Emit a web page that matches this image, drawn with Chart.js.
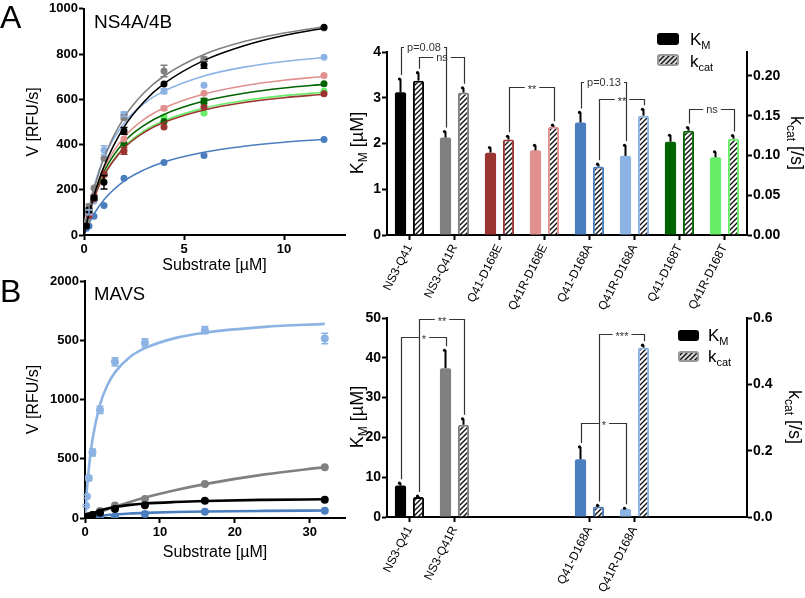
<!DOCTYPE html>
<html>
<head>
<meta charset="utf-8">
<script src="https://cdn.jsdelivr.net/npm/chart.js@4.4.1/dist/chart.umd.min.js"></script>
<style>
  body { margin: 0; background: #fff; width: 805px; height: 598px; position: relative; overflow: hidden;
         font-family: 'Liberation Sans', Arial, sans-serif; }
  canvas { position: absolute; }
  .lbl { position: absolute; color: #000; line-height: 1; white-space: nowrap; }
</style>
</head>
<body>
<canvas id="curvesA" width="350" height="300" style="left:0;top:0"></canvas>
<canvas id="barsA" width="470" height="310" style="left:335px;top:0"></canvas>
<canvas id="curvesB" width="350" height="328" style="left:0;top:270px"></canvas>
<canvas id="barsB" width="470" height="328" style="left:335px;top:270px"></canvas>
<div class="lbl" style="left:0;top:1px;font-size:32px">A</div>
<div class="lbl" style="left:0;top:275px;font-size:32px">B</div>
<div class="lbl" style="left:94px;top:12px;font-size:19px">NS4A/4B</div>
<div class="lbl" style="left:94px;top:285px;font-size:18.5px">MAVS</div>
<script>
const FONT = "'Liberation Sans', Arial, sans-serif";
Chart.defaults.font.family = FONT;
Chart.defaults.color = '#000';

// protease variants, in plotting order
const groups = ['NS3-Q41', 'NS3-Q41R', 'Q41-D168E', 'Q41R-D168E', 'Q41-D168A', 'Q41R-D168A', 'Q41-D168T', 'Q41R-D168T'];
const groupColors = ['#000000', '#808080', '#9a3431', '#e0918f', '#4a7ebf', '#8cb3e3', '#006400', '#66ee66'];

// --- A: NS4A/4B substrate, initial rates (RFU/s)
const substrateA = [0.125, 0.25, 0.5, 1, 2, 4, 6, 12];
const rateA = [
  [40, 110, 165, 233, 460, 668, 752, 918],
  [60, 125, 208, 338, 520, 725, 778, 915],
  [50, 85, 160, 270, 372, 478, 566, 625],
  [55, 90, 175, 265, 424, 560, 627, 705],
  [30, 40, 83, 130, 251, 321, 352, 422],
  [50, 100, 150, 375, 534, 636, 662, 786],
  [45, 95, 165, 265, 405, 502, 592, 669],
  [45, 90, 160, 270, 405, 522, 539, 636]
];
const rateErrA = [
  [0, 8, 10, 30, 15, 0, 15, 0],
  [0, 12, 0, 0, 10, 25, 8, 0],
  [0, 0, 0, 0, 15, 0, 0, 0],
  [0, 0, 0, 0, 0, 8, 0, 0],
  [0, 0, 0, 0, 0, 0, 0, 0],
  [0, 10, 0, 20, 10, 10, 0, 0],
  [0, 0, 0, 0, 0, 0, 12, 0],
  [0, 0, 0, 0, 0, 0, 0, 0]
];
// fitted curves
const fitXA = [0, 0.25, 0.5, 1, 2, 3, 4, 6, 8, 10, 12];
const fitA = [
  [0, 95, 175, 303, 477, 589, 669, 772, 837, 882, 914],
  [0, 111, 202, 341, 519, 629, 703, 798, 855, 893, 921],
  [0, 91, 162, 263, 384, 453, 498, 553, 586, 607, 622],
  [0, 103, 182, 296, 432, 511, 561, 623, 660, 684, 701],
  [0, 51, 93, 156, 238, 288, 323, 366, 392, 410, 423],
  [0, 120, 212, 342, 494, 581, 636, 703, 742, 767, 785],
  [0, 97, 173, 281, 411, 485, 533, 592, 627, 650, 666],
  [0, 92, 164, 266, 389, 460, 505, 561, 594, 616, 631]
];

// --- A: kinetic constants
const kmA = [3.12, 2.13, 1.80, 1.85, 2.46, 1.73, 2.04, 1.70];
const kmErrA = [0.29, 0.13, 0.11, 0.11, 0.22, 0.23, 0.14, 0.12];
const kcatA = [0.194, 0.179, 0.120, 0.136, 0.086, 0.150, 0.131, 0.121];
const kcatErrA = [0.010, 0.006, 0.004, 0.002, 0.003, 0.008, 0.004, 0.004];

// --- B: MAVS substrate
const seriesB = [0, 1, 4, 5]; // indexes into groups
const substrateB = [0.125, 0.25, 0.5, 1, 2, 4, 8, 16, 32];
const rateB = [
  [4, 8, 15, 25, 45, 75, 108, 145, 155],
  [3, 6, 12, 25, 60, 105, 160, 286, 429],
  [2, 3, 4, 5, 6, 11, 34, 53, 62],
  [104, 182, 337, 553, 912, 1318, 1478, 1585, 1515]
];
const rateErrB = [
  [0, 0, 0, 0, 0, 0, 0, 0, 0],
  [0, 0, 0, 0, 0, 0, 0, 0, 0],
  [0, 0, 0, 0, 0, 0, 0, 0, 0],
  [10, 15, 20, 30, 30, 35, 35, 30, 45]
];
const fitXB = [0, 0.25, 0.5, 1, 2, 3, 4, 6, 8, 12, 16, 24, 32];
const fitB = [
  [0, 12, 22, 39, 64, 81, 93, 111, 122, 135, 144, 153, 158],
  [0, 7, 13, 26, 50, 73, 95, 135, 172, 234, 286, 368, 429],
  [0, 3, 6, 11, 19, 25, 30, 38, 43, 50, 55, 60, 63],
  [0, 232, 410, 662, 956, 1122, 1229, 1358, 1433, 1518, 1564, 1613, 1638]
];
const yTicksB = ['0', '500', '1000', '500', '2000'];

const kmB = [7.9, 37.4, null, null, 14.5, 2.0, null, null];
const kmErrB = [0.6, 4.5, null, null, 3.1, 0.2, null, null];
const kcatB = [0.060, 0.278, null, null, 0.032, 0.511, null, null];
const kcatErrB = [0.003, 0.018, null, null, 0.003, 0.007, null, null];

// significance brackets: [group, dataset(0=KM,1=kcat)], level on the KM axis
const bracketsA = [
  {from: [0, 0], to: [1, 0], level: 4.11, text: 'p=0.08'},
  {from: [0, 1], to: [1, 1], level: 3.89, text: 'ns'},
  {from: [2, 1], to: [3, 1], level: 3.24, text: '**'},
  {from: [4, 0], to: [5, 0], level: 3.35, text: 'p=0.13'},
  {from: [4, 1], to: [5, 1], level: 2.98, text: '**'},
  {from: [6, 1], to: [7, 1], level: 2.76, text: 'ns'}
];
const bracketsB = [
  {from: [0, 0], to: [1, 0], level: 45.2, text: '*'},
  {from: [0, 1], to: [1, 1], level: 49.7, text: '**'},
  {from: [4, 1], to: [5, 1], level: 46.1, text: '***'},
  {from: [4, 0], to: [5, 0], level: 23.5, text: '*'}
];

function makeHatch(bg) {
  const c = document.createElement('canvas');
  c.width = 5; c.height = 5;
  const g = c.getContext('2d');
  g.fillStyle = bg; g.fillRect(0, 0, 5, 5);
  g.strokeStyle = '#111'; g.lineWidth = 1.4;
  g.beginPath();
  g.moveTo(-1, 6); g.lineTo(6, -1);
  g.moveTo(-1, 1); g.lineTo(1, -1);
  g.moveTo(4, 6); g.lineTo(6, 4);
  g.stroke();
  return g.createPattern(c, 'repeat');
}
const hatch = makeHatch('#fff');
const hatchLegend = makeHatch('#d6d6d6');

// text with subscripts: parts = [[text, size, dy]]
function drawRich(ctx, parts, x, y, angle, align) {
  ctx.save();
  ctx.translate(x, y);
  ctx.rotate(angle || 0);
  ctx.fillStyle = '#000';
  ctx.textAlign = 'left';
  ctx.textBaseline = 'alphabetic';
  let w = 0;
  parts.forEach(p => { ctx.font = p[1] + 'px ' + FONT; w += ctx.measureText(p[0]).width; });
  let cx = align === 'left' ? 0 : -w / 2;
  parts.forEach(p => {
    ctx.font = p[1] + 'px ' + FONT;
    ctx.fillText(p[0], cx, p[2] || 0);
    cx += ctx.measureText(p[0]).width;
  });
  ctx.restore();
}

const pointErr = {
  id: 'pointErr',
  afterDatasetsDraw(chart) {
    const ctx = chart.ctx, ys = chart.scales.y;
    chart.data.datasets.forEach((ds, di) => {
      if (!ds.err) return;
      const meta = chart.getDatasetMeta(di);
      ctx.save();
      ctx.strokeStyle = ds.pointBackgroundColor;
      ctx.lineWidth = 1.5;
      meta.data.forEach((pt, i) => {
        const e = ds.err[i];
        if (!e) return;
        const v = ds.data[i].y;
        const t = ys.getPixelForValue(v + e), b = ys.getPixelForValue(v - e);
        ctx.beginPath();
        ctx.moveTo(pt.x, t); ctx.lineTo(pt.x, b);
        ctx.moveTo(pt.x - 3.5, t); ctx.lineTo(pt.x + 3.5, t);
        ctx.moveTo(pt.x - 3.5, b); ctx.lineTo(pt.x + 3.5, b);
        ctx.stroke();
      });
      ctx.restore();
    });
  }
};

function curveChart(id, xs, rates, errs, fitX, fits, colors, o) {
  const datasets = [];
  rates.forEach((r, s) => {
    datasets.push({data: xs.map((x, i) => ({x: x, y: r[i]})), err: errs[s], showLine: false,
      pointRadius: o.pr, pointBackgroundColor: colors[s], pointBorderWidth: 0});
    datasets.push({data: fitX.map((x, i) => ({x: x, y: fits[s][i]})), showLine: true, pointRadius: 0,
      borderColor: colors[s], borderWidth: o.lw, cubicInterpolationMode: 'monotone'});
  });
  return new Chart(document.getElementById(id), {
    type: 'scatter',
    data: {datasets: datasets},
    options: {
      responsive: false, animation: false,
      plugins: {legend: {display: false}, tooltip: {enabled: false}},
      layout: {padding: {top: o.top, right: 5, left: 0, bottom: 0}},
      scales: {
        x: {
          type: 'linear', min: 0, max: o.xmax,
          afterFit: s => { s.height = o.xh; },
          border: {color: '#000', width: 2},
          grid: {drawOnChartArea: false, tickLength: 5, tickWidth: 2, tickColor: '#000'},
          ticks: {stepSize: o.xstep, includeBounds: false, maxRotation: 0, padding: 2,
                  font: {size: 13, weight: 'bold'}},
          title: {display: true, text: 'Substrate [µM]', font: {size: 16}, padding: {top: 0, bottom: o.xtp}}
        },
        y: {
          min: 0, max: o.ymax,
          afterFit: s => { s.width = o.yw; },
          border: {color: '#000', width: 2},
          grid: {drawOnChartArea: false, tickLength: 5, tickWidth: 2, tickColor: '#000'},
          ticks: {stepSize: o.ystep, padding: 1, font: {size: 13, weight: 'bold'}, callback: o.ycb},
          title: {display: true, text: 'V [RFU/s]', font: {size: 16}, padding: {top: 24, bottom: 0}}
        }
      }
    },
    plugins: [pointErr]
  });
}

function barExtras(o) {
  return {
    id: 'barExtras',
    afterDatasetsDraw(chart) {
      const ctx = chart.ctx;
      const ds = chart.data.datasets;
      const xOf = (g, d) => chart.getDatasetMeta(d).data[g].x;
      const topOf = (g, d) => chart.scales[ds[d].yAxisID].getPixelForValue(ds[d].data[g] + ds[d].err[g]);
      ctx.save();
      // error bars (upper only)
      ctx.strokeStyle = '#000'; ctx.fillStyle = '#000'; ctx.lineWidth = 2;
      ds.forEach((d, di) => d.data.forEach((v, g) => {
        if (v == null) return;
        const bar = chart.getDatasetMeta(di).data[g];
        const t = topOf(g, di);
        ctx.beginPath(); ctx.moveTo(bar.x, bar.y); ctx.lineTo(bar.x, t); ctx.stroke();
        ctx.beginPath(); ctx.arc(bar.x - 1, t, 1.6, 0, 2 * Math.PI); ctx.fill();
      }));
      // brackets
      const yL = chart.scales.yL;
      ctx.strokeStyle = '#333'; ctx.fillStyle = '#333'; ctx.lineWidth = 1.2;
      ctx.font = '11px ' + FONT; ctx.textAlign = 'center'; ctx.textBaseline = 'middle';
      o.brackets.forEach(b => {
        const x1 = Math.round(xOf(b.from[0], b.from[1])) + 0.5;
        const x2 = Math.round(xOf(b.to[0], b.to[1])) + 0.5;
        const y1 = topOf(b.from[0], b.from[1]) - 4;
        const y2 = topOf(b.to[0], b.to[1]) - 4;
        const yt = Math.round(yL.getPixelForValue(b.level)) + 0.5;
        const mid = (x1 + x2) / 2, hw = ctx.measureText(b.text).width / 2 + 3;
        ctx.beginPath();
        ctx.moveTo(x1, y1); ctx.lineTo(x1, yt); ctx.lineTo(mid - hw, yt);
        ctx.moveTo(mid + hw, yt); ctx.lineTo(x2, yt); ctx.lineTo(x2, y2);
        ctx.stroke();
        ctx.fillText(b.text, mid, b.text[0] === '*' ? yt + 2 : yt);
      });
      // legend
      const L = o.legend;
      ctx.fillStyle = '#000';
      ctx.beginPath(); ctx.roundRect(L.x, L.y1, L.w, L.h, 3); ctx.fill();
      ctx.fillStyle = hatchLegend; ctx.strokeStyle = '#999'; ctx.lineWidth = 2;
      ctx.beginPath(); ctx.roundRect(L.x + 1, L.y2, L.w - 2, L.h - 2, 2); ctx.fill(); ctx.stroke();
      drawRich(ctx, [['K', 17], ['M', 11, 4]], L.tx, L.b1, 0, 'left');
      drawRich(ctx, [['k', 17], ['cat', 11, 4]], L.tx, L.b2, 0, 'left');
      // axis titles
      const T = o.titles;
      drawRich(ctx, [['K', 18], ['M', 12, 4], [' [µM]', 18]], T.lx + 6, T.ly, -Math.PI / 2);
      drawRich(ctx, [['k', 18], ['cat', 12, 4], [' [/s]', 18]], T.rx - 6, T.ry, Math.PI / 2);
      ctx.restore();
    }
  };
}

function barChart(id, km, kmErr, kcat, kcatErr, o) {
  const show = km.map(v => v != null);
  return new Chart(document.getElementById(id), {
    type: 'bar',
    data: {
      labels: groups,
      datasets: [
        {label: 'KM', data: km, err: kmErr, yAxisID: 'yL', backgroundColor: groupColors,
         borderWidth: 0, borderRadius: 2, categoryPercentage: 0.8, barPercentage: 0.62},
        {label: 'kcat', data: kcat, err: kcatErr, yAxisID: 'yR', backgroundColor: hatch,
         borderColor: groupColors, borderWidth: 2, borderRadius: 2, categoryPercentage: 0.8, barPercentage: 0.62}
      ]
    },
    options: {
      responsive: false, animation: false,
      plugins: {legend: {display: false}, tooltip: {enabled: false}},
      layout: {padding: {top: o.top, left: 0, right: 0, bottom: 0}},
      scales: {
        x: {
          afterFit: s => { s.height = o.xh; },
          border: {color: '#000', width: 2},
          grid: {offset: false, drawOnChartArea: false, tickLength: 5, tickWidth: 2,
                 tickColor: c => (show[c.index] ? '#000' : 'rgba(0,0,0,0)')},
          ticks: {autoSkip: false, minRotation: 63, maxRotation: 63, padding: 2, font: {size: 12},
                  callback: (v, i) => (show[i] ? groups[i] : '')}
        },
        yL: {
          position: 'left', min: 0, max: o.lmax,
          afterFit: s => { s.width = 52; },
          border: {color: '#000', width: 2},
          grid: {drawOnChartArea: false, tickLength: 5, tickWidth: 2, tickColor: '#000'},
          ticks: {stepSize: o.lstep, includeBounds: false, padding: 1, font: {size: 14, weight: 'bold'}}
        },
        yR: {
          position: 'right', min: 0, max: o.rmax,
          afterFit: s => { s.width = 58; },
          border: {color: '#000', width: 2},
          grid: {drawOnChartArea: false, tickLength: 5, tickWidth: 2, tickColor: '#000'},
          ticks: {stepSize: o.rstep, includeBounds: false, padding: 1, font: {size: 14, weight: 'bold'},
                  callback: v => v.toFixed(o.rdec)}
        }
      }
    },
    plugins: [barExtras(o)]
  });
}

curveChart('curvesA', substrateA, rateA, rateErrA, fitXA, fitA, groupColors, {
  pr: 3.5, lw: 1.6, top: 7, xmax: 13.05, xh: 65, xstep: 5, xtp: 25, ymax: 1000, ystep: 200, yw: 84
});

curveChart('curvesB', substrateB, rateB, rateErrB, fitXB, fitB, seriesB.map(i => groupColors[i]), {
  pr: 4, lw: 2.6, top: 11, xmax: 34.7, xh: 80, xstep: 10, xtp: 36, ymax: 2000, ystep: 500, yw: 85,
  ycb: v => yTicksB[v / 500]
});

barChart('barsA', kmA, kmErrA, kcatA, kcatErrA, {
  top: 52, xh: 75, lmax: 4, lstep: 1, rmax: 0.23, rstep: 0.05, rdec: 2,
  brackets: bracketsA,
  legend: {x: 322, y1: 33, y2: 55, w: 22, h: 12, tx: 355, b1: 45, b2: 67},
  titles: {lx: 22, ly: 143, rx: 462, ry: 143}
});

barChart('barsB', kmB, kmErrB, kcatB, kcatErrB, {
  top: 48, xh: 81, lmax: 50, lstep: 10, rmax: 0.6, rstep: 0.2, rdec: 1,
  brackets: bracketsB,
  legend: {x: 343, y1: 60, y2: 82, w: 21, h: 11, tx: 373, b1: 71, b2: 92},
  titles: {lx: 22, ly: 147, rx: 460, ry: 147}
});
</script>
</body>
</html>
